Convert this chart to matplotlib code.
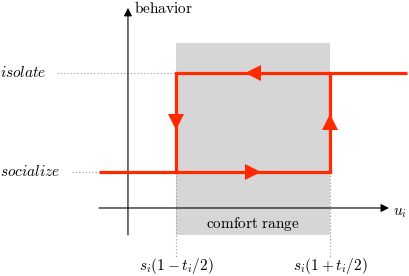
import matplotlib.pyplot as plt

plt.rcParams['mathtext.fontset'] = 'cm'

# comfort range thresholds s_i(1 - t_i/2), s_i(1 + t_i/2) with s_i = 1, t_i = 1
thresholds = [0.5, 1.5]
# behavior levels
levels = {'socialize': 0.0, 'isolate': 1.0}
threshold_labels = [r'$s_i(1-t_i/2)$', r'$s_i(1+t_i/2)$']

# hysteresis loop: socialize branch goes right, isolate branch goes left
lower_branch_u = [0.0, thresholds[1]]
upper_branch_u = [thresholds[0], 2.0]

red = '#ff2a00'
fs = 11

fig = plt.figure(figsize=(4.09, 2.76), dpi=100)
ax = fig.add_axes([0, 0, 1, 1])
ax.set_xlim(-0.643, 2.013)
ax.set_ylim(-1.051, 1.737)
ax.axis('off')

lo, hi = thresholds
soc, iso = levels['socialize'], levels['isolate']

# comfort range box
ax.fill_between([lo, hi], -0.636, 1.303, color='#d6d6d6', lw=0, zorder=0)
ax.text((lo + hi) / 2, -0.53, r'$\mathrm{comfort\ range}$', ha='center', va='center',
        fontsize=fs, zorder=3)

# axes with arrows
ax.annotate('', xy=(1.883, -0.364), xytext=(0.0, -0.364),
            arrowprops=dict(arrowstyle='-|>', color='black', lw=0.8,
                            mutation_scale=12, shrinkA=0, shrinkB=0), zorder=2)
ax.annotate('', xy=(0.188, 1.657), xytext=(0.188, -0.636),
            arrowprops=dict(arrowstyle='-|>', color='black', lw=0.8,
                            mutation_scale=12, shrinkA=0, shrinkB=0), zorder=2)
ax.text(0.225, 1.66, r'$\mathrm{behavior}$', ha='left', va='center', fontsize=fs)
ax.text(1.91, -0.41, r'$u_i$', ha='left', va='center', fontsize=fs)

# dotted guides
dot = dict(color='#999999', lw=0.8, ls=(0, (1, 2)), zorder=1)
ax.plot([-0.273, lo], [iso, iso], **dot)
ax.plot([-0.175, 0.0], [soc, soc], **dot)
for t in thresholds:
    ax.plot([t, t], [soc, -0.87], **dot)

# level labels
ax.text(-0.64, iso, r'$isolate$', ha='left', va='center', fontsize=fs)
ax.text(-0.64, soc, r'$socialize$', ha='left', va='center', fontsize=fs)

# threshold labels
for t, lab in zip(thresholds, threshold_labels):
    ax.text(t, -0.95, lab, ha='center', va='center', fontsize=fs)

# hysteresis loop
lw = 2.3
ax.plot(lower_branch_u, [soc, soc], color=red, lw=lw, zorder=4, solid_capstyle='butt')
ax.plot(upper_branch_u, [iso, iso], color=red, lw=lw, zorder=4, solid_capstyle='butt')
ax.plot([lo, lo], [soc, iso], color=red, lw=lw, zorder=4, solid_capstyle='projecting')
ax.plot([hi, hi], [soc, iso], color=red, lw=lw, zorder=4, solid_capstyle='projecting')

mid_u = (lo + hi) / 2
mid_b = (soc + iso) / 2
ms = 11
ax.plot(mid_u, soc, marker='>', color=red, ms=ms, zorder=5, mew=0)
ax.plot(mid_u, iso, marker='<', color=red, ms=ms, zorder=5, mew=0)
ax.plot(lo, mid_b, marker='v', color=red, ms=ms, zorder=5, mew=0)
ax.plot(hi, mid_b, marker='^', color=red, ms=ms, zorder=5, mew=0)

fig.savefig('out.png', dpi=100)
